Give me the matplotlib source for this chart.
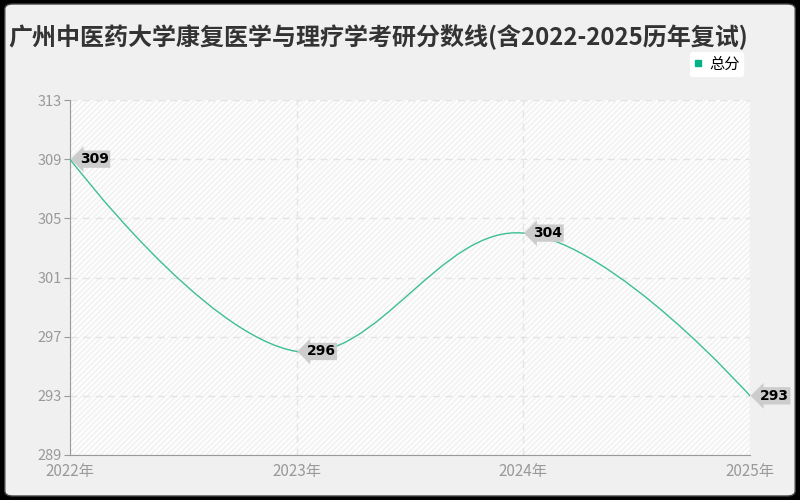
import matplotlib
matplotlib.use("Agg")
import matplotlib.pyplot as plt
from matplotlib.path import Path
from matplotlib.patches import PathPatch, FancyBboxPatch, Rectangle
import numpy as np

plt.rcParams['font.family'] = ['Noto Sans CJK SC', 'DejaVu Sans']

titulo = "广州中医药大学康复医学与理疗学考研分数线(含2022-2025历年复试)"
anos = [2022, 2023, 2024, 2025]
rotulos_x = ["2022年", "2023年", "2024年", "2025年"]
total = [309, 296, 304, 293]
ticks_y = [289, 293, 297, 301, 305, 309, 313]
cor_linha = '#3cbf91'

fig = plt.figure(figsize=(8, 5), dpi=100)
fig.patch.set_facecolor('black')
fig.patches.append(FancyBboxPatch((0.006, 0.008), 0.988, 0.984,
                                  boxstyle="round,pad=0,rounding_size=0.01",
                                  transform=fig.transFigure, facecolor='#f0f0f0',
                                  edgecolor='#444444', linewidth=1, zorder=-10))

ax = fig.add_axes([70 / 800, 1 - 455 / 500, 680 / 800, 355 / 500])
ax.set_facecolor('#fdfdfd')
ax.add_patch(Rectangle((0, 0), 1, 1, transform=ax.transAxes, facecolor='none',
                       edgecolor='#f0f0f0', hatch='//////', linewidth=0, zorder=0))

ax.set_xlim(anos[0], anos[-1])
ax.set_ylim(ticks_y[0], ticks_y[-1])
ax.set_xticks(anos)
ax.set_xticklabels(rotulos_x)
ax.set_yticks(ticks_y)
ax.tick_params(colors='#999999', labelsize=11, length=4)
ax.tick_params(axis='y', pad=2, labelsize=10.5)
ax.tick_params(axis='x', length=0, pad=6)
for lado in ['top', 'right']:
    ax.spines[lado].set_visible(False)
for lado in ['left', 'bottom']:
    ax.spines[lado].set_color('#999999')
ax.grid(True, linestyle=(0, (5, 4)), color='#e4e4e4', linewidth=1)
ax.set_axisbelow(True)

# curva suave estilo echarts (controle em coordenadas de tela)
pts = ax.transData.transform(np.column_stack([anos, total]))
suave = 0.38
cps = []
for i in range(len(pts)):
    if i == 0 or i == len(pts) - 1:
        cps.append((pts[i], pts[i]))
        continue
    p0, p, p1 = pts[i - 1], pts[i], pts[i + 1]
    v = (p1 - p0) * suave
    l0 = np.hypot(*(p - p0))
    l1 = np.hypot(*(p1 - p))
    r = l1 / (l0 + l1)
    cps.append((p - v * (1 - r), p + v * r))
verts = [pts[0]]
codes = [Path.MOVETO]
for i in range(len(pts) - 1):
    verts += [cps[i][1], cps[i + 1][0], pts[i + 1]]
    codes += [Path.CURVE4] * 3
verts = ax.transData.inverted().transform(np.array(verts))
ax.add_patch(PathPatch(Path(verts, codes), facecolor='none', edgecolor=cor_linha,
                       linewidth=1, zorder=3, clip_on=False))

for x, y in zip(anos, total):
    ax.annotate(str(y), (x, y), xytext=(7, 0), textcoords='offset points',
                ha='left', va='center', fontsize=10, fontweight='bold', color='black',
                family=['DejaVu Sans'],
                bbox=dict(boxstyle='larrow,pad=0.12', facecolor='#cccccc',
                          edgecolor='none'),
                zorder=5, annotation_clip=False)

fig.text(8 / 800, 1 - 37 / 500, titulo, fontsize=17.3, fontweight='bold',
         color='#333333', ha='left', va='center')

ax.plot([], [], color=cor_linha, marker='s', linestyle='none', markersize=4, label='总分')
leg = ax.legend(loc='upper right', bbox_to_anchor=(751 / 800, 1 - 44 / 500),
                bbox_transform=fig.transFigure, fontsize=11, frameon=True,
                handlelength=0.6, handletextpad=0.4, borderpad=0.25,
                fancybox=True, framealpha=1)
leg.get_frame().set_edgecolor('white')
for h in leg.legend_handles:
    h.set_color('#00b386')

fig.savefig('out.png', dpi=100, facecolor=fig.get_facecolor())
